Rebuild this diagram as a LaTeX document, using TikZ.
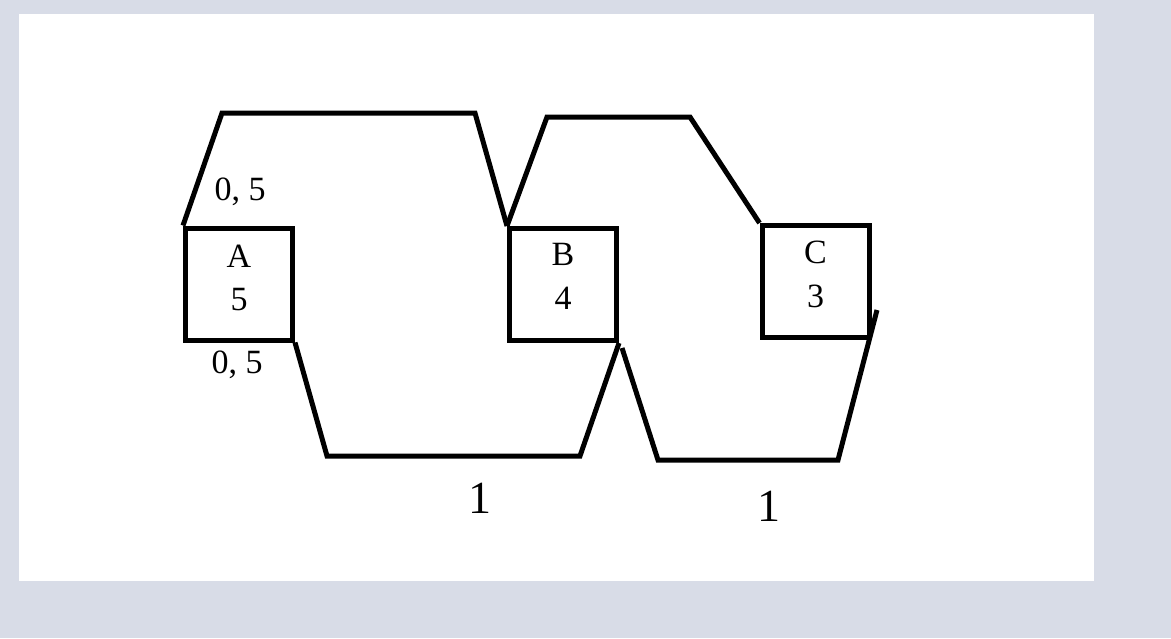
\documentclass[tikz,border=0pt]{standalone}
\usepackage{fontspec}
\setmainfont{Liberation Serif}
\definecolor{bgc}{HTML}{D8DCE7}
\tikzset{
  box/.style={draw=black, line width=5pt, minimum width=107pt, minimum height=112pt, inner sep=0pt},
  wire/.style={draw=black, line width=5pt},
  boxtxt/.style={anchor=base, inner sep=0pt, font=\fontsize{34}{40}\selectfont},
  smalllab/.style={anchor=base, inner sep=0pt, font=\fontsize{34}{40}\selectfont},
  biglab/.style={anchor=base, inner sep=0pt, font=\fontsize{46}{52}\selectfont}
}
\begin{document}
\begin{tikzpicture}[x=1pt, y=-1pt]
\useasboundingbox (0,0) rectangle (1171,638);
\fill[bgc] (0,0) rectangle (1171,638);
\fill[white] (19,14) rectangle (1094,581);

\node[box] (A) at (239,284) {};
\node[box] (B) at (563,284.5) {};
\node[box] (C) at (815.5,281.5) {};

\node[boxtxt] (A1) at (239,267) {A};
\node[boxtxt] (A2) at (239,310) {5};
\node[boxtxt] (B1) at (563,265) {B};
\node[boxtxt] (B2) at (563,309) {4};
\node[boxtxt] (C1) at (815.5,263) {C};
\node[boxtxt] (C2) at (815.5,307) {3};

\node[smalllab] (l1) at (240,200) {0, 5};
\node[smalllab] (l2) at (237,373) {0, 5};
\node[biglab] (l3) at (480,513) {1};
\node[biglab] (l4) at (768.5,521) {1};

\coordinate (s4) at (622,348);
\coordinate (e4) at (877,310);

\draw[wire] (A.north west) -- (222,113) -- (475,113) -- (B.north west);
\draw[wire] (B.north west) -- (547,117) -- (690,117) -- (C.north west);
\draw[wire] (A.south east) -- (327,456) -- (580,456) -- (B.south east);
\draw[wire] (s4) -- (658,460) -- (838,460) -- (e4);
\end{tikzpicture}
\end{document}
